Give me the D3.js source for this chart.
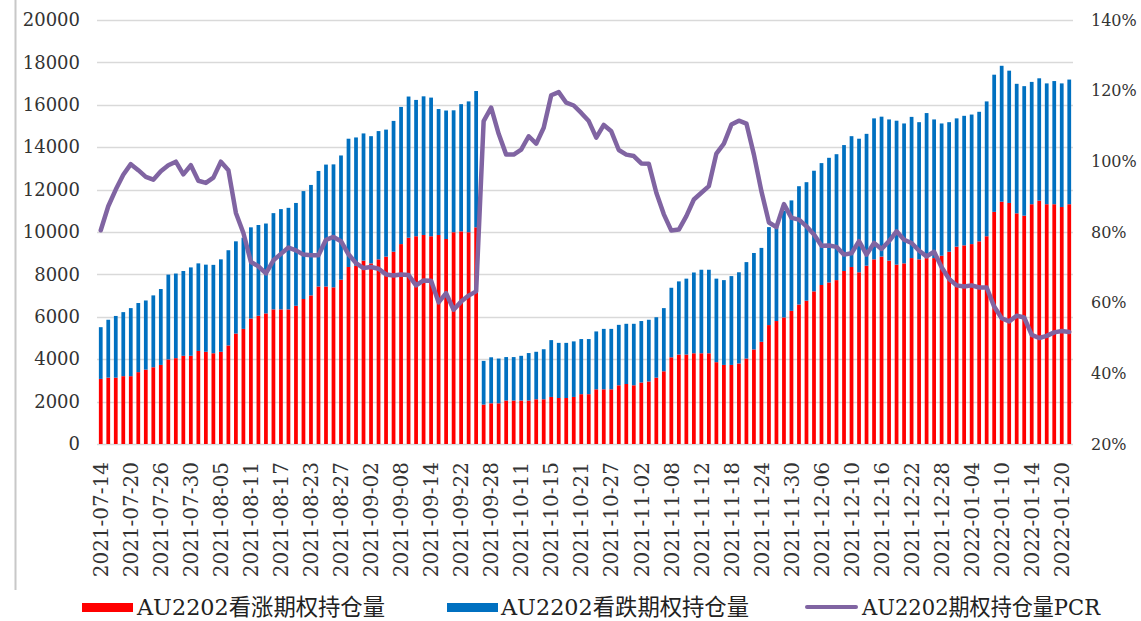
<!DOCTYPE html>
<html>
<head>
<meta charset="utf-8">
<script src="https://cdn.jsdelivr.net/npm/d3@7"></script>
<style>
  html, body { margin: 0; padding: 0; background: #fff; }
  svg { display: block; }
</style>
</head>
<body>
<svg id="chart" width="1141" height="621"></svg>
<script>
const dates = [
  "2021-07-14","2021-07-15","2021-07-16","2021-07-19","2021-07-20","2021-07-21","2021-07-22","2021-07-23","2021-07-26","2021-07-27","2021-07-28","2021-07-29","2021-07-30",
  "2021-08-02","2021-08-03","2021-08-04","2021-08-05","2021-08-06","2021-08-09","2021-08-10","2021-08-11","2021-08-12","2021-08-13","2021-08-16","2021-08-17","2021-08-18","2021-08-19","2021-08-20","2021-08-23","2021-08-24","2021-08-25","2021-08-26","2021-08-27","2021-08-30","2021-08-31",
  "2021-09-01","2021-09-02","2021-09-03","2021-09-06","2021-09-07","2021-09-08","2021-09-09","2021-09-10","2021-09-13","2021-09-14","2021-09-15","2021-09-16","2021-09-17","2021-09-22","2021-09-23","2021-09-24","2021-09-27","2021-09-28","2021-09-29","2021-09-30",
  "2021-10-08","2021-10-11","2021-10-12","2021-10-13","2021-10-14","2021-10-15","2021-10-18","2021-10-19","2021-10-20","2021-10-21","2021-10-22","2021-10-25","2021-10-26","2021-10-27","2021-10-28","2021-10-29",
  "2021-11-01","2021-11-02","2021-11-03","2021-11-04","2021-11-05","2021-11-08","2021-11-09","2021-11-10","2021-11-11","2021-11-12","2021-11-15","2021-11-16","2021-11-17","2021-11-18","2021-11-19","2021-11-22","2021-11-23","2021-11-24","2021-11-25","2021-11-26","2021-11-29","2021-11-30",
  "2021-12-01","2021-12-02","2021-12-03","2021-12-06","2021-12-07","2021-12-08","2021-12-09","2021-12-10","2021-12-13","2021-12-14","2021-12-15","2021-12-16","2021-12-17","2021-12-20","2021-12-21","2021-12-22","2021-12-23","2021-12-24","2021-12-27","2021-12-28","2021-12-29","2021-12-30","2021-12-31",
  "2022-01-04","2022-01-05","2022-01-06","2022-01-07","2022-01-10","2022-01-11","2022-01-12","2022-01-13","2022-01-14","2022-01-17","2022-01-18","2022-01-19","2022-01-20","2022-01-21"
];

// AU2202 call open interest (red)
const calls = [
  3070,3130,3130,3200,3200,3390,3510,3620,3730,3990,
  4050,4160,4160,4390,4350,4280,4350,4650,5210,5430,
  5920,6050,6160,6350,6350,6350,6520,6840,7010,7430,
  7430,7390,7750,8350,8410,8650,8520,8710,8840,9070,
  9430,9730,9800,9860,9800,9860,9670,9990,10030,9990,
  10220,1860,1920,1920,2050,2050,2050,2050,2110,2110,
  2220,2170,2170,2220,2350,2350,2580,2580,2580,2770,
  2830,2770,2900,2950,3130,3430,4090,4220,4220,4280,
  4280,4280,3860,3730,3730,3800,4030,4460,4820,5610,
  5800,5970,6280,6580,6760,7200,7500,7620,7730,8160,
  8350,8100,8410,8710,8840,8650,8460,8520,8770,8710,
  8770,8770,8880,9070,9310,9370,9430,9560,9800,10950,
  11430,11370,10880,10770,11310,11480,11310,11310,11180,11310
];

// AU2202 put open interest (blue)
const puts = [
  2440,2730,2910,3020,3210,3260,3260,3390,3580,4000,
  3990,4000,4170,4130,4110,4170,4360,4490,4350,4300,
  4300,4280,4240,4540,4730,4790,4850,5090,5210,5450,
  5750,5800,5860,6050,6050,6000,6000,6050,5990,6170,
  6470,6660,6430,6540,6540,5940,6060,5750,6000,6170,
  6430,2060,2170,2110,2050,2050,2110,2240,2240,2360,
  2680,2600,2600,2620,2600,2600,2730,2850,2850,2850,
  2840,2900,2900,2910,2850,2980,3280,3450,3580,3810,
  3940,3940,3940,4000,4190,4300,4550,4550,4430,4620,
  4430,5040,5210,5580,5590,5690,5750,5880,5940,5940,
  6170,6300,6220,6650,6600,6660,6790,6600,6660,6470,
  6840,6540,6240,6110,6050,6110,6110,6110,6360,6470,
  6410,6240,6110,6110,5770,5770,5700,5810,5830,5880
];

// AU2202 option open interest PCR (%)
const pcr = [
  80.5,87.3,92.0,96.2,99.2,97.5,95.6,94.8,97.2,98.9,
  99.9,96.3,98.9,94.5,93.9,95.4,99.9,97.5,85.4,79.7,
  71.5,70.3,68.3,72.0,73.8,75.6,74.8,73.6,73.4,73.4,
  77.8,78.6,77.4,73.7,71.2,69.8,70.1,69.6,68.0,67.7,
  68.0,67.8,64.9,66.3,66.2,60.1,62.7,58.0,60.3,62.0,
  63.2,111.4,115.2,107.8,101.9,101.9,103.3,107.1,105.0,109.5,
  118.7,119.6,116.6,115.8,113.7,111.4,106.7,110.3,108.5,103.2,
  101.9,101.5,99.4,99.3,91.1,85.0,80.4,80.7,84.5,89.2,
  91.1,93.0,102.2,105.0,110.4,111.5,110.7,101.9,91.5,82.7,
  81.4,87.9,84.0,83.5,81.6,79.3,76.1,76.2,75.8,73.6,
  74.0,77.4,73.6,76.9,75.2,77.4,80.2,77.8,76.9,74.7,
  73.1,74.4,70.0,66.7,64.9,64.6,64.9,64.3,64.3,58.9,
  55.6,54.7,56.3,55.8,50.9,50.0,50.6,51.6,52.0,51.7
];

const leftTicks = [0,2000,4000,6000,8000,10000,12000,14000,16000,18000,20000];
const rightTicks = [20,40,60,80,100,120,140];
const seriesNames = ["AU2202看涨期权持仓量","AU2202看跌期权持仓量","AU2202期权持仓量PCR"];
const colors = { call: "#ff0000", put: "#0070c0", pcr: "#8064a2" };

const svg = d3.select("#chart");
svg.append("rect").attr("width",1141).attr("height",621).attr("fill","#fff");

const plot = { left: 97, right: 1073, top: 20, bottom: 444 };

const x = d3.scaleBand().domain(dates).range([plot.left, plot.right])
  .paddingInner(0.5).paddingOuter(0.25);
const y = d3.scaleLinear().domain([0, 20000]).range([plot.bottom, plot.top]);
const y2 = d3.scaleLinear().domain([20, 140]).range([plot.bottom, plot.top]);

const serif = "'DejaVu Serif', 'Liberation Serif', 'Noto Sans CJK SC', serif";

// left frame line
svg.append("line").attr("x1",15.5).attr("x2",15.5).attr("y1",0).attr("y2",590)
  .attr("stroke","#c8c8c8").attr("stroke-width",2);

// gridlines
svg.append("g").selectAll("line").data(leftTicks).join("line")
  .attr("x1", plot.left).attr("x2", plot.right)
  .attr("y1", d => Math.round(y(d)) + 0.5).attr("y2", d => Math.round(y(d)) + 0.5)
  .attr("stroke", "#d9d9d9").attr("stroke-width", 1.3);

// stacked bars
const stack = d3.stack().keys(["call","put"]);
const rows = dates.map((d,i) => ({ date: d, call: calls[i], put: puts[i] }));
const stacked = stack(rows);
svg.append("g").selectAll("g").data(stacked).join("g")
  .attr("fill", s => colors[s.key])
  .selectAll("rect").data(s => s).join("rect")
  .attr("x", d => x(d.data.date))
  .attr("width", x.bandwidth())
  .attr("y", d => y(d[1]))
  .attr("height", d => y(d[0]) - y(d[1]));

// PCR line
const line = d3.line()
  .x((d,i) => x(dates[i]) + x.bandwidth()/2)
  .y(d => y2(d));
svg.append("path").datum(pcr)
  .attr("d", line)
  .attr("fill","none")
  .attr("stroke", colors.pcr)
  .attr("stroke-width", 4.5)
  .attr("stroke-linejoin","round")
  .attr("stroke-linecap","round");

// left axis
const gl = svg.append("g").attr("transform", `translate(${plot.left},0)`)
  .call(d3.axisLeft(y).tickValues(leftTicks).tickSize(0).tickPadding(17).tickFormat(d3.format("d")));
gl.select(".domain").remove();
gl.selectAll("text").attr("font-family", serif).attr("font-size", 18).attr("fill", "#333");

// right axis
const gr = svg.append("g").attr("transform", `translate(${plot.right},0)`)
  .call(d3.axisRight(y2).tickValues(rightTicks).tickSize(0).tickPadding(18).tickFormat(d => d + "%"));
gr.select(".domain").remove();
gr.selectAll("text").attr("font-family", serif).attr("font-size", 16).attr("fill", "#333");

// x axis
const gx = svg.append("g").attr("transform", `translate(0,${plot.bottom})`)
  .call(d3.axisBottom(x).tickValues(dates.filter((d,i) => i % 4 === 0)).tickSize(0));
gx.select(".domain").remove();
gx.selectAll("text")
  .attr("font-family", serif).attr("font-size", 20).attr("fill", "#333")
  .attr("transform", "rotate(-90)")
  .attr("text-anchor", "end")
  .attr("x", -18).attr("y", 0).attr("dy", "0.36em");

// legend
const lg = svg.append("g").attr("font-family", serif).attr("font-size", 23).attr("fill", "#222");
const legendItems = [
  { name: seriesNames[0], type: "rect", color: colors.call, x: 82, tx: 137, len: 248 },
  { name: seriesNames[1], type: "rect", color: colors.put, x: 447, tx: 501, len: 248 },
  { name: seriesNames[2], type: "line", color: colors.pcr, x: 805, tx: 862, len: 238 }
];
legendItems.forEach(it => {
  if (it.type === "rect") {
    lg.append("rect").attr("x", it.x).attr("y", 603).attr("width", 51).attr("height", 9).attr("fill", it.color);
  } else {
    lg.append("line").attr("x1", it.x + 2).attr("x2", it.x + 51).attr("y1", 607).attr("y2", 607)
      .attr("stroke", it.color).attr("stroke-width", 4).attr("stroke-linecap","round");
  }
  lg.append("text").attr("x", it.tx).attr("y", 607).attr("dy", "0.36em")
    .attr("textLength", it.len).attr("lengthAdjust", "spacingAndGlyphs")
    .text(it.name);
});
</script>
</body>
</html>
